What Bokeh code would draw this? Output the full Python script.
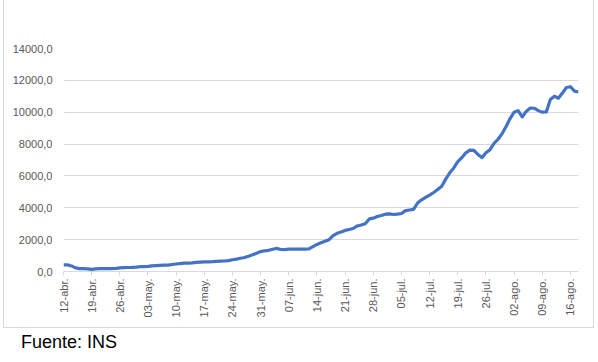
from bokeh.plotting import figure
from bokeh.models import FixedTicker, ColumnDataSource, Div
from bokeh.layouts import column
from bokeh.embed import file_html
from bokeh.resources import INLINE
import math

# daily cases (12-abr .. 18-ago)
values = [
    420, 415, 350, 230, 180, 175, 160, 130, 165, 175,
    180, 180, 185, 200, 230, 245, 250, 255, 270, 300,
    310, 320, 350, 370, 390, 400, 405, 440, 470, 500,
    520, 530, 540, 570, 590, 600, 610, 620, 640, 650,
    660, 680, 740, 780, 830, 880, 960, 1050, 1150, 1250,
    1300, 1330, 1400, 1450, 1380, 1370, 1400, 1410, 1410, 1400,
    1410, 1420, 1560, 1700, 1800, 1900, 2000, 2250, 2400, 2480,
    2580, 2640, 2700, 2860, 2920, 3000, 3300, 3350, 3450, 3520,
    3600, 3620, 3580, 3600, 3640, 3820, 3860, 3900, 4300, 4500,
    4650, 4800, 4960, 5150, 5350, 5800, 6200, 6500, 6900, 7150,
    7450, 7620, 7600, 7350, 7150, 7450, 7650, 8050, 8300, 8650,
    9100, 9600, 10000, 10100, 9700, 10050, 10260, 10250, 10100, 10000,
    10020, 10800, 11000, 10880, 11200, 11550, 11600, 11320, 11270,
]
days = list(range(len(values)))

x_tick_labels = ["12-abr.", "19-abr.", "26-abr.", "03-may.", "10-may.", "17-may.",
                 "24-may.", "31-may.", "07-jun.", "14-jun.", "21-jun.", "28-jun.",
                 "05-jul.", "12-jul.", "19-jul.", "26-jul.", "02-ago.", "09-ago.",
                 "16-ago."]
x_tick_pos = [7 * i for i in range(len(x_tick_labels))]

y_tick_vals = [0, 2000, 4000, 6000, 8000, 10000, 12000, 14000]
y_tick_labels = ["0,0", "2000,0", "4000,0", "6000,0", "8000,0", "10000,0", "12000,0", "14000,0"]

source = ColumnDataSource(dict(x=days, y=values))

p = figure(width=591, height=328, output_backend="svg", toolbar_location=None,
           x_range=(0, len(values) - 1), y_range=(0, 14000),
           min_border_left=59, min_border_right=17, min_border_top=48, min_border_bottom=57)
p.margin = (0, 0, 0, 3)
p.outline_line_color = None
p.background_fill_color = "white"
p.border_fill_color = "white"
p.styles = {"border-left": "1px solid #d9d9d9", "border-right": "1px solid #d9d9d9",
            "border-bottom": "1px solid #d9d9d9"}

p.line("x", "y", source=source, line_color="#4472C4", line_width=3.2, line_join="round")

p.xgrid.visible = False
p.ygrid.grid_line_color = "#d9d9d9"
p.ygrid.grid_line_width = 1

p.xaxis.ticker = FixedTicker(ticks=x_tick_pos)
p.xaxis.major_label_overrides = {pos: lab for pos, lab in zip(x_tick_pos, x_tick_labels)}
p.xaxis.major_label_orientation = math.pi / 2
p.xaxis.axis_line_color = "#d9d9d9"
p.xaxis.major_tick_line_color = "#d9d9d9"
p.xaxis.major_tick_out = 4
p.xaxis.major_tick_in = 0
p.xaxis.minor_tick_line_color = None
p.xaxis.major_label_standoff = 3
p.xaxis.major_label_text_font = "Liberation Sans"
p.xaxis.major_label_text_font_size = "11px"
p.xaxis.major_label_text_color = "#595959"

p.yaxis.ticker = FixedTicker(ticks=y_tick_vals)
p.yaxis.major_label_overrides = {v: s for v, s in zip(y_tick_vals, y_tick_labels)}
p.yaxis.axis_line_color = None
p.yaxis.major_tick_line_color = None
p.yaxis.minor_tick_line_color = None
p.yaxis.major_tick_out = 0
p.yaxis.major_tick_in = 0
p.yaxis.major_label_standoff = 11
p.yaxis.major_label_text_font = "Liberation Sans"
p.yaxis.major_label_text_font_size = "11px"
p.yaxis.major_label_text_color = "#595959"

source_note = Div(text="Fuente: INS", width=300, height=30,
                  styles={"font-family": "Liberation Sans, Arial, sans-serif",
                          "font-size": "18px", "color": "#000000",
                          "margin-left": "21px", "margin-top": "2px"})

layout = column(p, source_note, spacing=0)

open("out.html", "w").write(file_html(layout, INLINE))
